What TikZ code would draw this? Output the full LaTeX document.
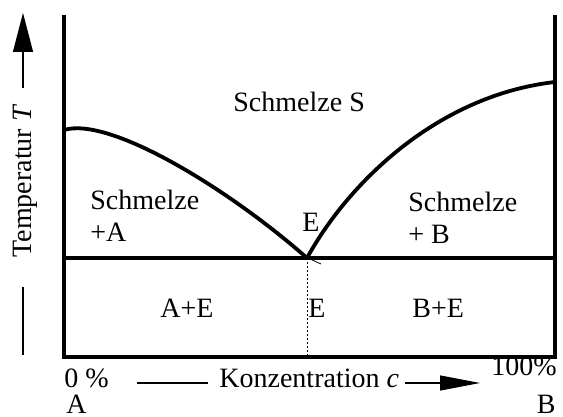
\documentclass[tikz,border=0pt]{standalone}
\usepackage{fontspec}
\setmainfont{Liberation Serif}
\usetikzlibrary{arrows.meta}

\begin{document}
\begin{tikzpicture}[x=0.5pt, y=-0.5pt,
  frame/.style={line width=2pt},
  curve/.style={line width=1.9pt},
  lbl/.style={font=\fontsize{14}{16}\selectfont, inner sep=0pt, anchor=base west},
  guide/.style={line width=0.6pt}]
  \useasboundingbox (0,0) rectangle (563,417);

  % Key points of the diagram
  \coordinate (tl) at (64,15);
  \coordinate (tr) at (555,15);
  \coordinate (bl) at (64,357);
  \coordinate (br) at (555,357);
  \coordinate (el) at (64,258);
  \coordinate (er) at (555,258);
  \coordinate (eu) at (307,258);
  \coordinate (eb) at (307,357);
  \coordinate (ls) at (64,130);
  \coordinate (rs) at (555,82);

  % Frame and eutectic line
  \draw[frame] (tl) -- (bl) -- (br) -- (tr);
  \draw[frame] (el) -- (er);

  % Liquidus curves
  \draw[curve] (ls) .. controls (110,116) and (230,190) .. (eu);
  \draw[curve] (eu) .. controls (350,180) and (440,95) .. (rs);
  \draw[line width=0.5pt, dash pattern=on 1pt off 1pt] (eu) -- (eb);
  \draw[line width=0.4pt] (310,259) -- (321,264);

  % Region labels
  \node[lbl] (melt) at (233,112) {Schmelze S};
  \node[lbl] (meltA) at (90,210) {Schmelze};
  \node[lbl] (plusA) at (90,242) {+A};
  \node[lbl] (meltB) at (408,212) {Schmelze};
  \node[lbl] (plusB) at (408,243) {+ B};
  \node[lbl] (eut) at (302,232) {E};
  \node[lbl] (AE) at (160,317) {A+E};
  \node[lbl] (E) at (308,317) {E};
  \node[lbl] (BE) at (412,317) {B+E};

  % Temperature axis
  \node[lbl, rotate=90, anchor=base] (temp) at (32,181) {Temperatur \textit{T}};
  \draw[guide, -{Triangle[length=19.5pt, width=10pt]}] (23,88) -- (23,13);
  \draw[guide] (23,287) -- (23,355);

  % Concentration axis
  \node[lbl] (p0) at (64,387) {0 \%};
  \node[lbl] (A) at (66,413) {A};
  \node[lbl, anchor=base east] (p100) at (557,375) {100\%};
  \node[lbl, anchor=base east] (B) at (556,413) {B};
  \node[lbl] (conc) at (219,387) {Konzentration \textit{c}};
  \draw[guide] (137,383) -- (208,383);
  \draw[guide, -{Triangle[length=20pt, width=7.5pt]}] (405,383) -- (480,383);

\end{tikzpicture}
\end{document}
